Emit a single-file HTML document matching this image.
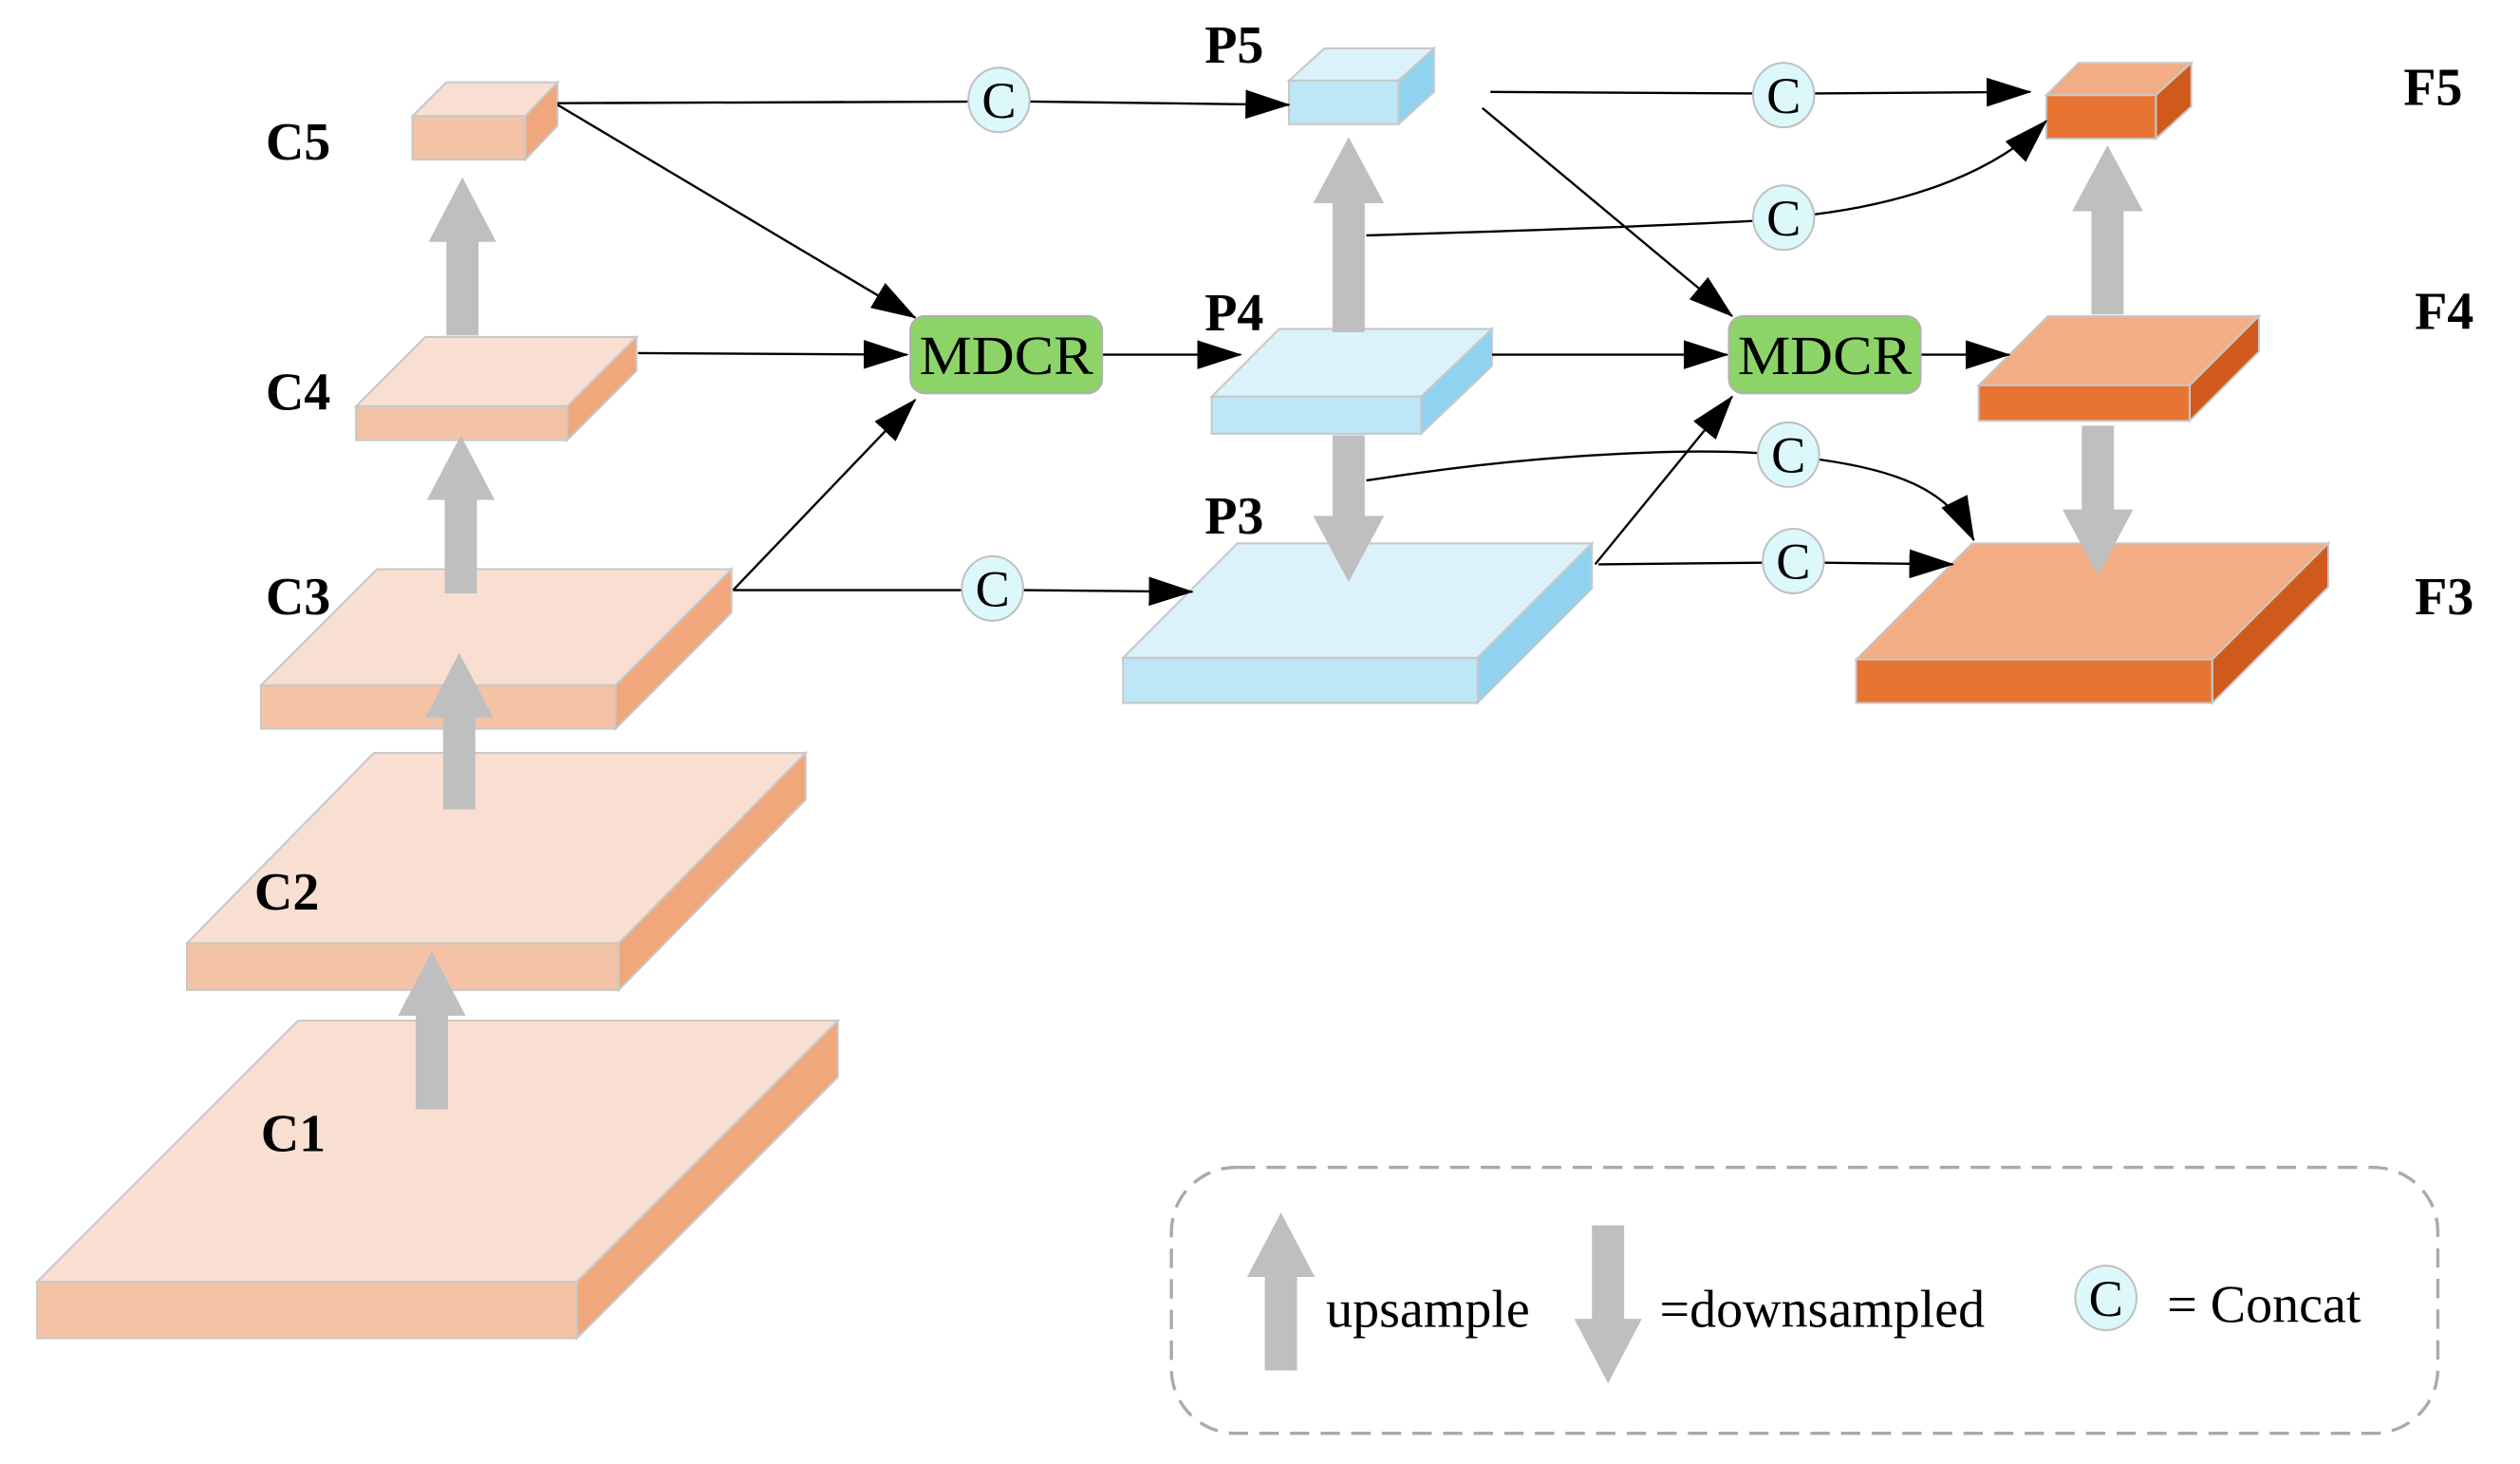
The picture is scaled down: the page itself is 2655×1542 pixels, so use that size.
<!DOCTYPE html>
<html><head><meta charset="utf-8"><style>html,body{margin:0;padding:0;background:#fff}svg{display:block}</style></head><body>
<svg width="2655" height="1542" viewBox="0 0 1564 908" preserveAspectRatio="none" xmlns="http://www.w3.org/2000/svg" font-family="Liberation Serif, serif">
<style>.l{stroke:#000;stroke-width:1.4;fill:none}.la{stroke:#000;stroke-width:1.4;fill:none;marker-end:url(#arr)}</style>
<defs><marker id="arr" markerWidth="28" markerHeight="18" refX="27" refY="9" orient="auto" markerUnits="userSpaceOnUse"><path d="M0,0L28,9L0,18z" fill="#000"/></marker></defs>
<g stroke="#c8c8c8" stroke-width="1.2">
<g>
<polygon points="23,795 358,795 520,633 185,633" fill="#f9dfd2"/><polygon points="358,795 520,633 520,668 358,830" fill="#f0a77c"/><rect x="23" y="795" width="335" height="35" fill="#f4c3a6"/>
<polygon points="116,585 384,585 500,467 232,467" fill="#f9dfd2"/><polygon points="384,585 500,467 500,496 384,614" fill="#f0a77c"/><rect x="116" y="585" width="268" height="29" fill="#f4c3a6"/>
<polygon points="162,425 382,425 454,353 234,353" fill="#f9dfd2"/><polygon points="382,425 454,353 454,380 382,452" fill="#f0a77c"/><rect x="162" y="425" width="220" height="27" fill="#f4c3a6"/>
<polygon points="221,252 352,252 395,209 264,209" fill="#f9dfd2"/><polygon points="352,252 395,209 395,230 352,273" fill="#f0a77c"/><rect x="221" y="252" width="131" height="21" fill="#f4c3a6"/>
<polygon points="256,72 326,72 346,51 277,51" fill="#f9dfd2"/><polygon points="326,72 346,51 346,78 326,99" fill="#f0a77c"/><rect x="256" y="72" width="70" height="27" fill="#f4c3a6"/>
</g>
<g>
<polygon points="800,50 868,50 890,30 822,30" fill="#dcf2fb"/><polygon points="868,50 890,30 890,57 868,77" fill="#8fd3f0"/><rect x="800" y="50" width="68" height="27" fill="#bde6f6"/>
<polygon points="752,246 882,246 926,204 794,204" fill="#dcf2fb"/><polygon points="882,246 926,204 926,227 882,269" fill="#8fd3f0"/><rect x="752" y="246" width="130" height="23" fill="#bde6f6"/>
<polygon points="697,408 917,408 988,337 768,337" fill="#dcf2fb"/><polygon points="917,408 988,337 988,365 917,436" fill="#8fd3f0"/><rect x="697" y="408" width="220" height="28" fill="#bde6f6"/>
</g>
<g>
<polygon points="1270,59 1338,59 1360,39 1290,39" fill="#f2ad85"/><polygon points="1338,59 1360,39 1360,66 1338,86" fill="#d05a1c"/><rect x="1270" y="59" width="68" height="27" fill="#e87433"/>
<polygon points="1228,239 1359,239 1402,196 1271,196" fill="#f2ad85"/><polygon points="1359,239 1402,196 1402,218 1359,261" fill="#d05a1c"/><rect x="1228" y="239" width="131" height="22" fill="#e87433"/>
<polygon points="1152,409 1373,409 1445,337 1224,337" fill="#f2ad85"/><polygon points="1373,409 1445,337 1445,364 1373,436" fill="#d05a1c"/><rect x="1152" y="409" width="221" height="27" fill="#e87433"/>
</g>
</g>
<g fill="#bfbfbf">
<path d="M258,688h20v-58h11l-21,-40l-21,40h11z"/>
<path d="M275,502h20v-57h11l-21,-40l-21,40h11z"/>
<path d="M276,368h20v-58h11l-21,-40l-21,40h11z"/>
<path d="M277,208h20v-58h11l-21,-40l-21,40h11z"/>
<path d="M827,206h20v-80h12l-22,-41l-22,41h12z"/>
<path d="M827,270h20v50h12l-22,41l-22,-41h12z"/>
<path d="M1298,195h20v-64h12l-22,-41l-22,41h12z"/>
<path d="M1292,264h20v52h12l-22,41l-22,-41h12z"/>
<path d="M785,850h20v-58h11l-21,-40l-21,40h11z"/>
<path d="M988,760h20v58h11l-21,40l-21,-40h11z"/>
</g>
<g>
<path class="l" d="M346,64L601,63"/><path class="la" d="M639,63L800,65"/>
<path class="la" d="M346,65L568,197"/>
<path class="la" d="M396,219L563,220"/>
<path class="la" d="M455,366L568,248"/>
<path class="l" d="M455,366L597,366"/><path class="la" d="M635,366L740,367"/>
<path class="la" d="M684,220L770,220"/>
<path class="l" d="M925,57L1088,58"/><path class="la" d="M1126,58L1260,57"/>
<path class="la" d="M920,67L1075,196"/>
<path class="l" d="M848,146C950,143 1030,140 1088,137"/><path class="la" d="M1126,133C1190,125 1240,105 1270,75"/>
<path class="la" d="M926,220L1072,220"/>
<path class="la" d="M1192,220L1247,220"/>
<path class="la" d="M990,350L1075,246"/>
<path class="l" d="M992,350L1094,349"/><path class="la" d="M1132,349L1212,350"/>
<path class="l" d="M848,298C950,282 1040,278 1091,281"/><path class="la" d="M1129,285C1180,292 1210,305 1225,335"/>
</g>
<g stroke="#b0b0b0" stroke-width="1.2" fill="#8dd468">
<rect x="565" y="196" width="119" height="48" rx="9"/><rect x="1073" y="196" width="119" height="48" rx="9"/>
</g>
<g font-size="34" text-anchor="middle"><text x="624.5" y="232" textLength="108" lengthAdjust="spacingAndGlyphs">MDCR</text><text x="1132.5" y="232" textLength="108" lengthAdjust="spacingAndGlyphs">MDCR</text></g>
<g stroke="#c0c0c0" stroke-width="1.2" fill="#dcf8fb">
<ellipse cx="620" cy="62" rx="19" ry="20"/><ellipse cx="1107" cy="59" rx="19" ry="20"/><ellipse cx="1107" cy="135" rx="19" ry="20"/><ellipse cx="1110" cy="282" rx="19" ry="20"/><ellipse cx="616" cy="365" rx="19" ry="20"/><ellipse cx="1113" cy="348" rx="19" ry="20"/><ellipse cx="1307" cy="805" rx="19" ry="20"/>
</g>
<g font-size="32" text-anchor="middle"><text x="620" y="73">C</text><text x="1107" y="70">C</text><text x="1107" y="146">C</text><text x="1110" y="293">C</text><text x="616" y="376">C</text><text x="1113" y="359">C</text><text x="1307" y="816">C</text></g>
<g font-size="33" font-weight="bold" text-anchor="middle">
<text x="185" y="99">C5</text><text x="185" y="254">C4</text><text x="185" y="381">C3</text><text x="178" y="564">C2</text><text x="182" y="714">C1</text>
<text x="766" y="39">P5</text><text x="766" y="205">P4</text><text x="766" y="331">P3</text>
<text x="1510" y="65">F5</text><text x="1517" y="204">F4</text><text x="1517" y="381">F3</text>
</g>
<rect x="727" y="724" width="786" height="165" rx="40" fill="none" stroke="#aaa" stroke-width="2" stroke-dasharray="12,7"/>
<g font-size="33"><text x="823" y="823">upsample</text><text x="1030" y="823">=downsampled</text><text x="1345" y="820">= Concat</text></g>
</svg>
</body></html>
